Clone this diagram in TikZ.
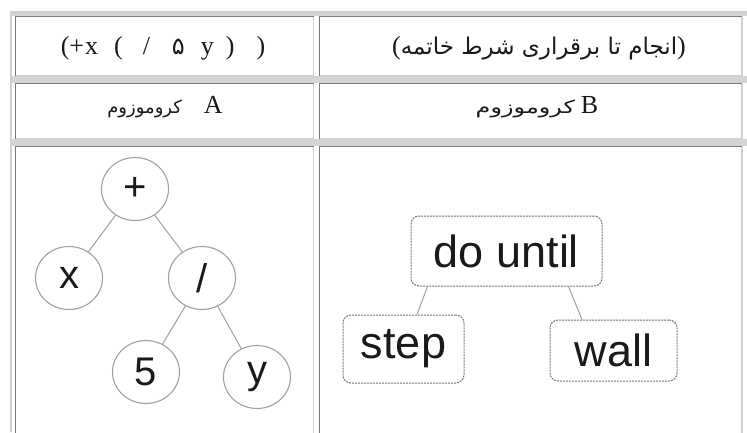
\documentclass[tikz,border=0pt]{standalone}
\usepackage{graphicx}
\usepackage{fontspec}
\setmainfont{Liberation Serif}
\newfontfamily\arabicfont[Script=Arabic]{DejaVu Sans}
\newfontfamily\treefont{Liberation Sans}
\TeXXeTstate=1
\usetikzlibrary{shapes.geometric,calc}

\definecolor{celldark}{HTML}{7A7A7A}
\definecolor{celllight}{HTML}{D0D0D0}
\definecolor{gapfill}{HTML}{D4D4D4}
\definecolor{treeline}{HTML}{A0A0A0}
\definecolor{boxline}{HTML}{767676}
\definecolor{ink}{HTML}{1A1A1A}

\tikzset{
  darkedge/.style={draw=celldark, line width=1.6pt},
  lightedge/.style={draw=celllight, line width=1.6pt},
  headtext/.style={text=ink, inner sep=0pt, font=\fontsize{26}{30}\selectfont},
  opnode/.style={ellipse, draw=treeline, line width=1.1pt, fill=white,
    minimum width=67pt, minimum height=63pt, inner sep=0pt, text=ink,
    font=\treefont\fontsize{40}{44}\selectfont},
  cmdbox/.style={rectangle, rounded corners=8pt, draw=boxline, line width=1pt,
    dash pattern=on 2pt off 1pt, fill=white, inner sep=0pt, text=ink,
    font=\treefont\fontsize{45}{50}\selectfont},
  branch/.style={draw=treeline, line width=1pt}
}

\begin{document}
\begin{tikzpicture}[x=1pt, y=-1pt]
\useasboundingbox (0,0) rectangle (747,432);
\fill[white] (0,0) rectangle (747,432);

% spacing bands between the rows
\fill[gapfill] (10,12) rectangle (747,16);
\fill[gapfill] (10,76) rectangle (747,83);
\fill[gapfill] (10,139) rectangle (747,146);

% outer table frame
\draw[lightedge, line width=2.5pt] (11,432) -- (11,12.5) -- (747,12.5);

% cells: dark top/left, light bottom/right
\foreach \ya/\yb in {16.5/76, 83.5/139, 146.5/440}{
  \draw[lightedge] (15.5,\yb) -- (313.5,\yb) -- (313.5,\ya);
  \draw[darkedge] (15.5,\yb) -- (15.5,\ya) -- (313.5,\ya);
  \draw[lightedge] (319.5,\yb) -- (742,\yb) -- (742,\ya);
  \draw[darkedge] (319.5,\yb) -- (319.5,\ya) -- (742,\ya);
}

% header texts
\node[headtext] (exprA) at (163,48)
  {(+\hspace{1pt}x\hspace{16pt}(\hspace{20pt}/\hspace{22pt}{\arabicfont\fontsize{24}{28}\selectfont ۵}\hspace{16pt}y\hspace{12pt})\hspace{22pt})};
\node[headtext] (exprB) at (539,48)
  {({\arabicfont\fontsize{23}{28}\selectfont\beginR انجام تا برقراری شرط خاتمه\endR})};
\node[headtext] (nameA) at (165,107)
  {{\arabicfont\fontsize{18}{26}\selectfont\beginR کروموزوم\endR}\hspace{22pt}A};
\node[headtext] (nameB) at (537,107)
  {\scalebox{1.33}[1]{\arabicfont\fontsize{18}{26}\selectfont\beginR کروموزوم\endR}\hspace{6pt}B};

% expression tree of chromosome A
\node[opnode] (plus) at (135,189) {+};
\node[opnode] (xv)   at (69,278)  {x};
\node[opnode] (divn) at (202,278) {/};
\node[opnode] (five) at (146,372) {5};
\node[opnode] (yv)   at (257,377) {y};
\draw[branch] (plus) -- (xv);
\draw[branch] (plus) -- (divn);
\draw[branch] (divn) -- (five);
\draw[branch] (divn) -- (yv);

% program tree of chromosome B
\node[cmdbox, minimum width=191pt, minimum height=70pt] (loop) at (506.5,251) {do until};
\node[cmdbox, minimum width=121pt, minimum height=68pt] (stepn) at (403.5,349) {step};
\node[cmdbox, minimum width=127pt, minimum height=61pt] (walln) at (613.5,350.5) {wall};
\draw[branch] ($(loop.south west)+(17,0)$) -- ($(stepn.north)+(13.5,0)$);
\draw[branch] ($(loop.south east)+(-34,0)$) -- ($(walln.north)+(-31.5,0)$);
\end{tikzpicture}
\end{document}
